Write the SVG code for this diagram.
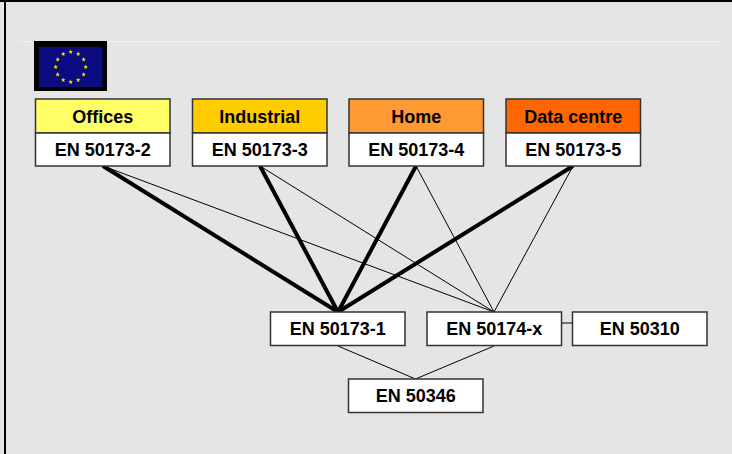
<svg xmlns="http://www.w3.org/2000/svg" width="732" height="454" viewBox="0 0 732 454">
<style>
.bg{fill:#e5e5e5}
.box{stroke:#333;stroke-width:1.5}
.t{font-family:"Liberation Sans",Arial,sans-serif;font-weight:bold;font-size:18px;fill:#000;text-anchor:middle}
.thick{stroke:#000;stroke-width:4;fill:none}
.thin{stroke:#000;stroke-width:1;fill:none}
.star{fill:#ffee00}
</style>
<defs>
<polygon id="st" points="0,-2.4 0.56,-0.77 2.28,-0.74 0.91,0.3 1.41,1.94 0,0.96 -1.41,1.94 -0.91,0.3 -2.28,-0.74 -0.56,-0.77"/>
</defs>
<rect class="bg" x="0" y="0" width="732" height="454"/>
<rect x="0" y="0" width="732" height="2" fill="#000"/>
<rect x="4" y="0" width="2" height="454" fill="#000"/>
<line x1="20" y1="41.5" x2="723" y2="41.5" stroke="#f2f2f2" stroke-width="1"/>
<g id="flag">
<rect x="34" y="41" width="73" height="50" fill="#000"/>
<rect x="39" y="47" width="63.5" height="40" fill="#0c0c80"/>
<g class="star">
<use href="#st" x="70.7" y="52"/>
<use href="#st" x="78.2" y="54"/>
<use href="#st" x="83.7" y="59.5"/>
<use href="#st" x="85.7" y="67"/>
<use href="#st" x="83.7" y="74.5"/>
<use href="#st" x="78.2" y="80"/>
<use href="#st" x="70.7" y="82"/>
<use href="#st" x="63.2" y="80"/>
<use href="#st" x="57.7" y="74.5"/>
<use href="#st" x="55.7" y="67"/>
<use href="#st" x="57.7" y="59.5"/>
<use href="#st" x="63.2" y="54"/>
</g>
</g>
<g id="connectors">
<line class="thin" x1="103" y1="166" x2="494" y2="312"/>
<line class="thin" x1="260" y1="166" x2="494" y2="312"/>
<line class="thin" x1="416" y1="166" x2="494" y2="312"/>
<line class="thin" x1="573" y1="166" x2="494" y2="312"/>
<line class="thick" x1="103" y1="166" x2="338" y2="312"/>
<line class="thick" x1="260" y1="166" x2="338" y2="312"/>
<line class="thick" x1="416" y1="166" x2="338" y2="312"/>
<line class="thick" x1="573" y1="166" x2="338" y2="312"/>
<line class="thin" x1="338" y1="346" x2="415.5" y2="379"/>
<line class="thin" x1="494" y1="346" x2="415.5" y2="379"/>
<line class="thin" x1="562" y1="323" x2="572" y2="323"/>
</g>
<g id="offices">
<rect class="box" x="35.5" y="99" width="134.5" height="34" fill="#ffff66"/>
<rect class="box" x="35.5" y="133" width="134.5" height="33" fill="#fff"/>
<text class="t" x="102.7" y="122.5">Offices</text>
<text class="t" x="102.7" y="156">EN 50173-2</text>
</g>
<g id="industrial">
<rect class="box" x="192.5" y="99" width="134.5" height="34" fill="#ffcc00"/>
<rect class="box" x="192.5" y="133" width="134.5" height="33" fill="#fff"/>
<text class="t" x="259.7" y="122.5">Industrial</text>
<text class="t" x="259.7" y="156">EN 50173-3</text>
</g>
<g id="home">
<rect class="box" x="349" y="99" width="134.5" height="34" fill="#ff9933"/>
<rect class="box" x="349" y="133" width="134.5" height="33" fill="#fff"/>
<text class="t" x="416.2" y="122.5">Home</text>
<text class="t" x="416.2" y="156">EN 50173-4</text>
</g>
<g id="datacentre">
<rect class="box" x="506" y="99" width="134.5" height="34" fill="#ff6600"/>
<rect class="box" x="506" y="133" width="134.5" height="33" fill="#fff"/>
<text class="t" x="573.2" y="122.5">Data centre</text>
<text class="t" x="573.2" y="156">EN 50173-5</text>
</g>
<g id="en50173-1">
<rect class="box" x="270.5" y="312" width="134.5" height="33.5" fill="#fff"/>
<text class="t" x="337.7" y="335">EN 50173-1</text>
</g>
<g id="en50174-x">
<rect class="box" x="427" y="312" width="134.5" height="33.5" fill="#fff"/>
<text class="t" x="494.2" y="335">EN 50174-x</text>
</g>
<g id="en50310">
<rect class="box" x="572.5" y="312" width="134.5" height="33.5" fill="#fff"/>
<text class="t" x="639.7" y="335">EN 50310</text>
</g>
<g id="en50346">
<rect class="box" x="348.5" y="379" width="134.5" height="33.5" fill="#fff"/>
<text class="t" x="415.7" y="402">EN 50346</text>
</g>
</svg>
